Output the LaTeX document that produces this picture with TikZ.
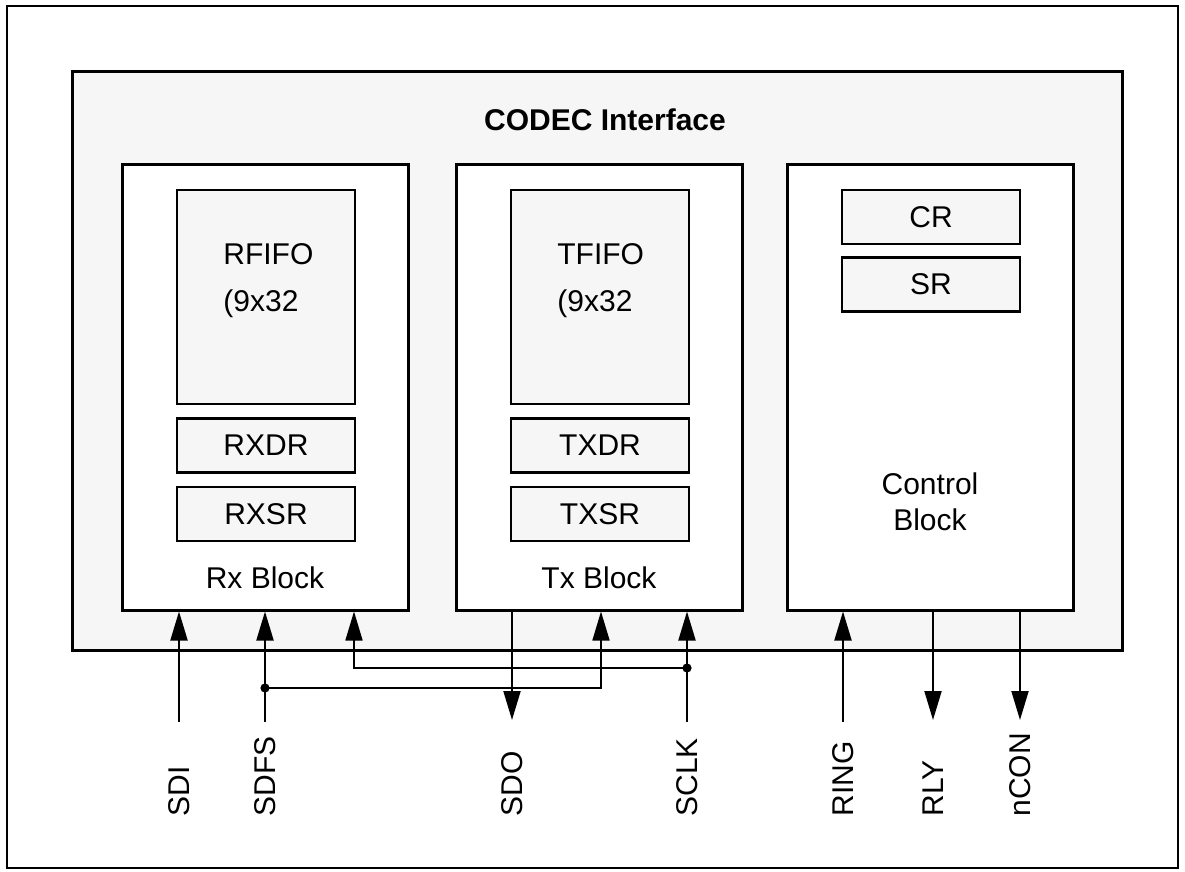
\documentclass[tikz,border=0pt]{standalone}
\usepackage{fontspec}
\setmainfont{Liberation Sans}
\usepackage{xcolor}
\usetikzlibrary{arrows.meta,positioning}
\definecolor{panelgray}{HTML}{F6F6F6}

\begin{document}
\begin{tikzpicture}[
  x=0.5pt, y=-0.5pt,
  >={Triangle[length=14.5pt,width=8.5pt]},
  font=\fontsize{15}{18}\selectfont,
  frame/.style={draw=black, line width=1pt},
  panel/.style={draw=black, fill=panelgray, line width=1.5pt, minimum width=525pt, minimum height=289pt, inner sep=0pt},
  block/.style={draw=black, fill=white, line width=1.5pt, minimum width=143pt, minimum height=222.5pt, inner sep=0pt},
  fifobox/.style={draw=black, fill=panelgray, line width=1.1pt, minimum width=89pt, minimum height=107pt, inner sep=0pt},
  regbox/.style={draw=black, fill=panelgray, line width=1.1pt, minimum width=89pt, minimum height=27pt, inner sep=0pt},
  fifolbl/.style={anchor=north west, inner sep=0pt, align=left},
  pin/.style={inner sep=0pt, rotate=90, anchor=west},
  sig/.style={->, line width=1pt},
  route/.style={->, line width=0.85pt},
  dot/.style={fill=black}
]

% Rahmen und feste Bildgrenzen
\useasboundingbox (0,0) rectangle (1185,872);
\draw[frame] (7,6) rectangle (1178,868);

% CODEC-Schnittstelle
\node[panel] (codec) at (597,361) {};
\node[font=\fontsize{15}{18}\selectfont\bfseries] (codectitle) at (605,120) {CODEC Interface};

% Rx-Block
\node[block] (rx) at (265,387.5) {};
\node[fifobox] (rfifo) at (266,297) {};
\node[fifolbl] (rfifolbl) at (223,243) {RFIFO\\[5.5pt](9x32};
\node[regbox] (rxdr) at (266,445.5) {RXDR};
\node[regbox] (rxsr) at (266,514) {RXSR};
\node (rxlbl) at (265,578) {Rx Block};

% Tx-Block
\node[block] (tx) at (599,387.5) {};
\node[fifobox] (tfifo) at (600,297) {};
\node[fifolbl] (tfifolbl) at (557,243) {TFIFO\\[5.5pt](9x32};
\node[regbox] (txdr) at (600,445.5) {TXDR};
\node[regbox] (txsr) at (600,514) {TXSR};
\node (txlbl) at (599,578) {Tx Block};

% Steuerblock
\node[block] (ctrl) at (930,387.5) {};
\node[regbox] (cr) at (931,217) {CR};
\node[regbox] (sr) at (931,284.5) {SR};
\node[align=center] (ctrllbl) at (930,502) {Control\\Block};

% Anschlussnamen
\node[pin] (sdi) at (179,817) {SDI};
\node[pin] (sdfs) at (265,817) {SDFS};
\node[pin] (sdo) at (512,817) {SDO};
\node[pin] (sclk) at (687,817) {SCLK};
\node[pin] (ring) at (843,817) {RING};
\node[pin] (rly) at (933,817) {RLY};
\node[pin] (ncon) at (1020,817) {nCON};

% freie Leitungsenden
\coordinate (sdi-end) at (179,722);
\coordinate (sdfs-end) at (265,722);
\coordinate (sdo-end) at (512,720);
\coordinate (sclk-end) at (687,722);
\coordinate (ring-end) at (843,722);
\coordinate (rly-end) at (933,720);
\coordinate (ncon-end) at (1020,720);
\coordinate (fsjoin) at (265,688);
\coordinate (clkjoin) at (687,668);
\coordinate (fs-tx) at (601,688);
\coordinate (clk-rx) at (354,668);

% Signale
\draw[sig] (sdi-end) -- (sdi-end |- rx.south);
\draw[sig] (sdfs-end) -- (sdfs-end |- rx.south);
\draw[sig] (sclk-end) -- (sclk-end |- tx.south);
\draw[sig] (sdo-end |- tx.south) -- (sdo-end);
\draw[sig] (ring-end) -- (ring-end |- ctrl.south);
\draw[sig] (rly-end |- ctrl.south) -- (rly-end);
\draw[sig] (ncon-end |- ctrl.south) -- (ncon-end);

% Abzweige SDFS und SCLK
\draw[route] (fsjoin) -- (fs-tx) -- (fs-tx |- tx.south);
\draw[route] (clkjoin) -- (clk-rx) -- (clk-rx |- rx.south);
\fill[dot] (fsjoin) circle (2.3pt);
\fill[dot] (clkjoin) circle (2.3pt);

\end{tikzpicture}
\end{document}
